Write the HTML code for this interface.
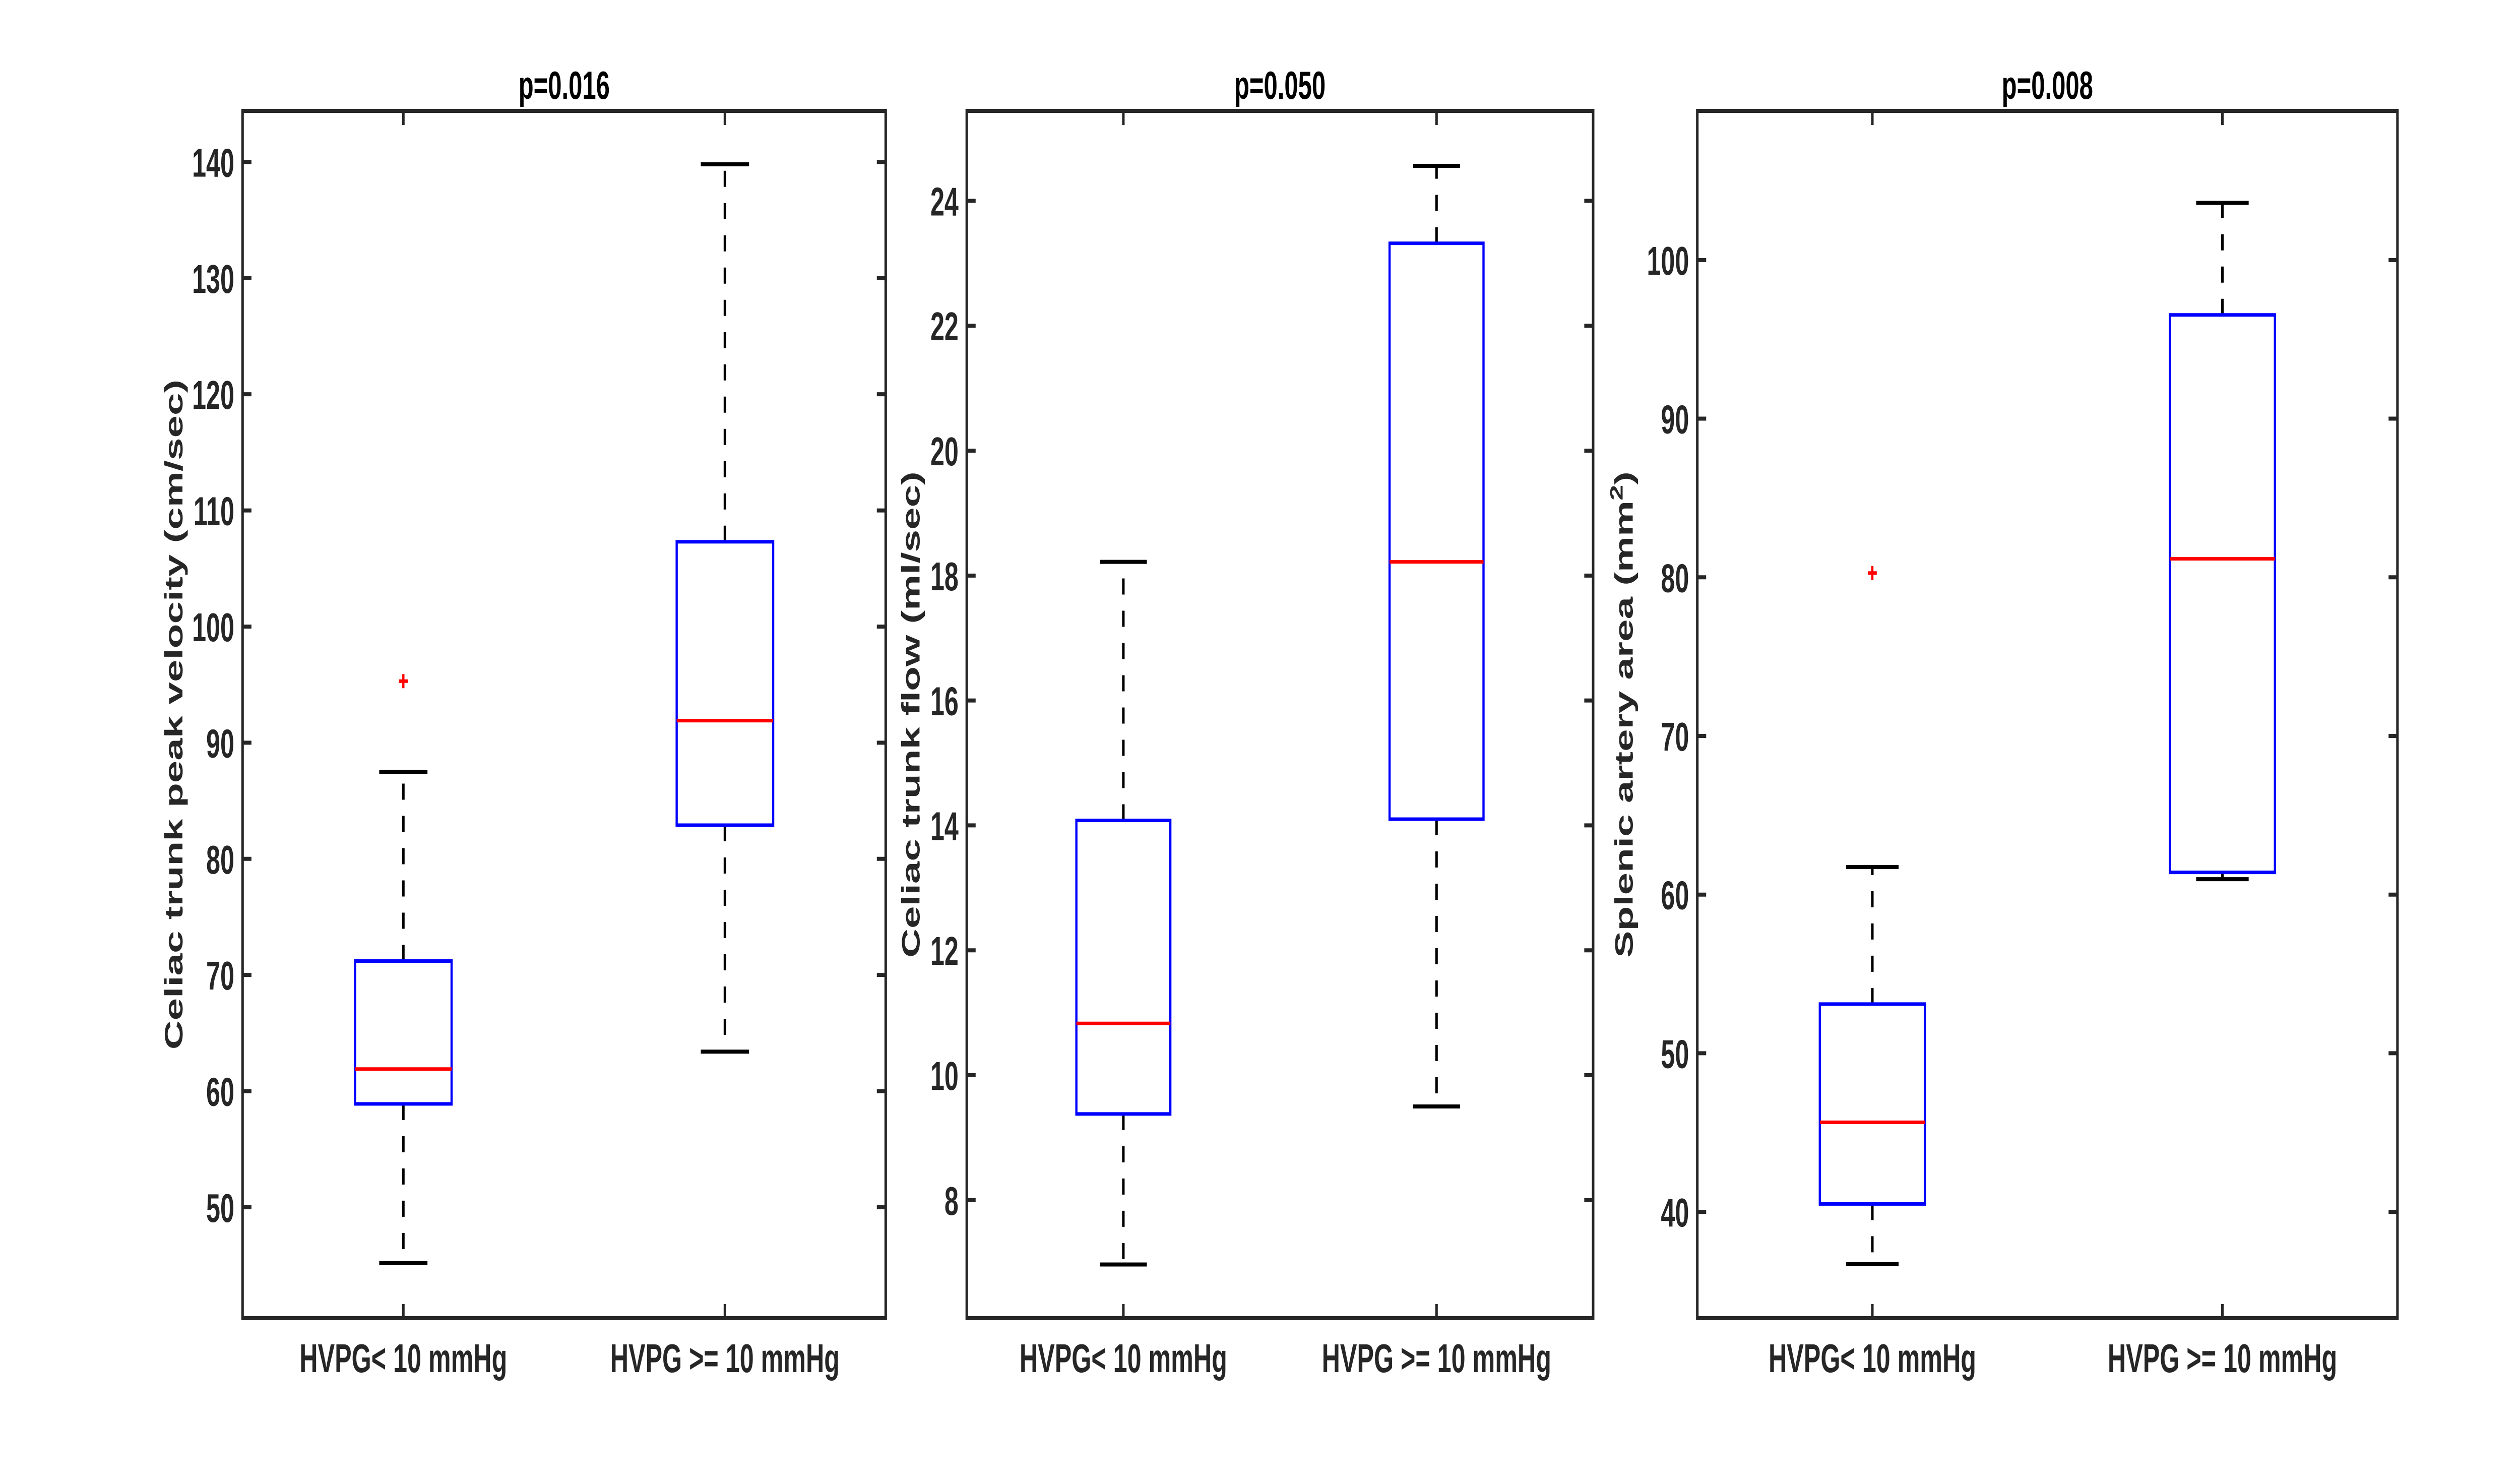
<!DOCTYPE html>
<html><head><meta charset="utf-8"><style>
html,body{margin:0;padding:0;background:#fff;width:100%;height:100%;overflow:hidden;}
svg{display:block;width:100vw;height:100vh;}
text{font-family:"Liberation Sans",Arial,sans-serif;font-weight:bold;fill:#262626;}
</style></head><body>
<svg id="fig" viewBox="0 0 7958 2938" preserveAspectRatio="none" xmlns="http://www.w3.org/2000/svg"></svg>
<script>
const categories = ["HVPG< 10 mmHg", "HVPG >= 10 mmHg"];
// panel 1: celiac trunk peak velocity
const p1Title = "p=0.016";
const p1Lower = [45.2, 63.4];
const p1Q1 = [58.9, 82.9];
const p1Median = [61.9, 91.9];
const p1Q3 = [71.2, 107.3];
const p1Upper = [87.5, 139.8];
const p1Outliers = [[95.3], []];
const p1Ticks = [50, 60, 70, 80, 90, 100, 110, 120, 130, 140];
const p1Range = [40.45, 144.4];
// panel 2: celiac trunk flow
const p2Title = "p=0.050";
const p2Lower = [6.97, 9.50];
const p2Q1 = [9.38, 14.10];
const p2Median = [10.83, 18.22];
const p2Q3 = [14.08, 23.32];
const p2Upper = [18.22, 24.56];
const p2Outliers = [[], []];
const p2Ticks = [8, 10, 12, 14, 16, 18, 20, 22, 24];
const p2Range = [6.11, 25.44];
// panel 3: splenic artery area
const p3Title = "p=0.008";
const p3Lower = [36.7, 60.97];
const p3Q1 = [40.5, 61.4];
const p3Median = [45.65, 81.17];
const p3Q3 = [53.1, 96.54];
const p3Upper = [61.74, 103.6];
const p3Outliers = [[80.27], []];
const p3Ticks = [40, 50, 60, 70, 80, 90, 100];
const p3Range = [33.3, 109.4];

const NS = "http://www.w3.org/2000/svg";
const svg = document.getElementById("fig");
function mk(tag, attrs, parent) {
  const e = document.createElementNS(NS, tag);
  for (const k in attrs) e.setAttribute(k, attrs[k]);
  (parent || svg).appendChild(e);
  return e;
}
const TOP = 220, BOT = 2615;

function panel(idx, x0, x1, title, ylabel, ylabelX, range, ticks, lower, q1, med, q3, upper, outl) {
  const g = mk("g", {});
  
  
  const yS = v => BOT - (v - range[0]) / (range[1] - range[0]) * (BOT - TOP);
  const xS = i => x0 + (x1 - x0) * (i + 0.5) / categories.length;
  const unit = (x1 - x0) / categories.length;
  ticks.forEach(t => {
    const y = yS(t);
    const l = mk("path", {d: `M${x0} ${y}H${x0+28}M${x1} ${y}H${x1-28}`, stroke: "#262626", "stroke-width": 8}, g);
    
    
    const tx = mk("text", {x: x0 - 26, y: y + 29, "text-anchor": "end", "font-size": 80}, g);
    tx.textContent = t;
    
    
  });
  categories.forEach((c, i) => {
    const x = xS(i);
    const l = mk("path", {d: `M${x} ${TOP}V${TOP+28}M${x} ${BOT}V${BOT-28}`, stroke: "#262626", "stroke-width": 8}, g);
    
    
    const tx = mk("text", {x: x, y: 2722, "text-anchor": "middle", "font-size": 80}, g);
    tx.textContent = c;
    
    
    const hw = unit * 0.15, cw = unit * 0.075;
    const wk = mk("path", {d: `M${x} ${yS(q3[i])}V${yS(upper[i])}M${x} ${yS(q1[i])}V${yS(lower[i])}`, stroke: "#000", "stroke-width": 8, "stroke-dasharray": "32 32", fill: "none"}, g);
    
    
    const cp = mk("path", {d: `M${x-cw} ${yS(upper[i])}H${x+cw}M${x-cw} ${yS(lower[i])}H${x+cw}`, stroke: "#000", "stroke-width": 8}, g);
    
    
    const bx = mk("rect", {x: x - hw, y: yS(q3[i]), width: 2 * hw, height: yS(q1[i]) - yS(q3[i]), fill: "none", stroke: "#0000ff", "stroke-width": 7}, g);
    
    
    const md = mk("path", {d: `M${x-hw} ${yS(med[i])}H${x+hw}`, stroke: "#ff0000", "stroke-width": 7}, g);
    
    
    outl[i].forEach(v => {
      const y = yS(v);
      const o = mk("path", {d: `M${x-14} ${y}H${x+14}M${x} ${y-14}V${y+14}`, stroke: "#ff0000", "stroke-width": 7}, g);
      
      
    });
  });
  const fr = mk("rect", {x: x0, y: TOP, width: x1 - x0, height: BOT - TOP, fill: "none", stroke: "#262626", "stroke-width": 8}, g);
  
  
  const tt = mk("text", {x: (x0 + x1) / 2, y: 196, "text-anchor": "middle", "font-size": 78, style: "fill:#000"}, g);
  tt.textContent = title;
  
  
  const yl = mk("text", {x: 0, y: 0, "text-anchor": "middle", "font-size": 80, transform: `translate(${ylabelX} ${(TOP+BOT)/2}) rotate(-90)`}, g);
  yl.innerHTML = ylabel;
  
  
}
panel(1, 766, 2797, p1Title, "Celiac trunk peak velocity (cm/sec)", 576, p1Range, p1Ticks, p1Lower, p1Q1, p1Median, p1Q3, p1Upper, p1Outliers);
panel(2, 3053, 5031, p2Title, "Celiac trunk flow (ml/sec)", 2904, p2Range, p2Ticks, p2Lower, p2Q1, p2Median, p2Q3, p2Upper, p2Outliers);
panel(3, 5360, 7571, p3Title, 'Splenic artery area (mm<tspan dy="-32" font-size="56">2</tspan><tspan dy="32">)</tspan>', 5156, p3Range, p3Ticks, p3Lower, p3Q1, p3Median, p3Q3, p3Upper, p3Outliers);
</script>
</body></html>
